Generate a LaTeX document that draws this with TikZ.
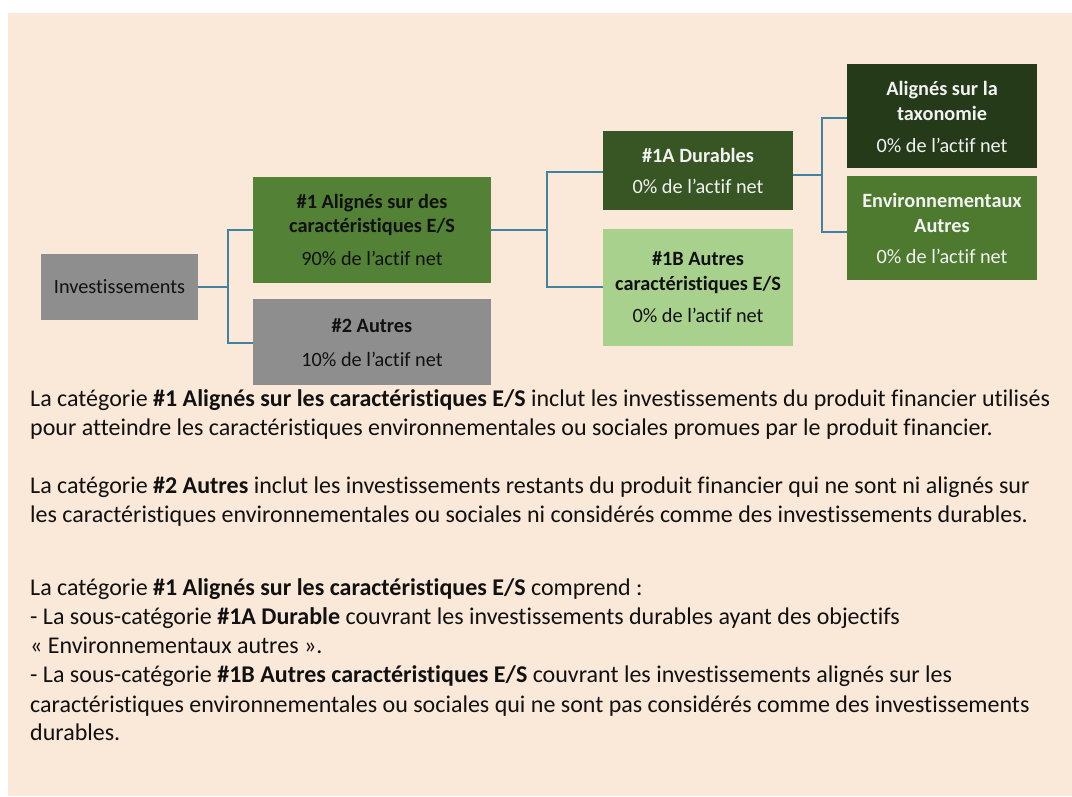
\documentclass[tikz,border=0pt]{standalone}
\usepackage{fontspec}
\setmainfont{Carlito}[Ligatures={NoCommon}]
\usetikzlibrary{calc}
\definecolor{peach}{HTML}{FAE8D8}
\definecolor{gris}{HTML}{8E8E8E}
\definecolor{vert}{HTML}{538135}
\definecolor{vertfonce}{HTML}{375623}
\definecolor{vertnoir}{HTML}{243A18}
\definecolor{vertenv}{HTML}{4E7A30}
\definecolor{vertclair}{HTML}{A9D18E}
\definecolor{lien}{HTML}{41829F}
\definecolor{blanc}{HTML}{F2F2F2}
\definecolor{noir}{HTML}{111111}
\tikzset{
  boite/.style={rectangle, draw=none, inner sep=0pt},
  conn/.style={draw=lien, line width=1.8pt},
  btxt/.style={anchor=base, inner sep=0pt, font=\fontsize{20.3}{24}\selectfont},
  corps/.style={anchor=base west, inner sep=0pt, text=noir, font=\fontsize{24}{29}\selectfont}
}
\begin{document}
\begin{tikzpicture}[x=1pt,y=-1pt]
\useasboundingbox (0,0) rectangle (1072,796);
\fill[white] (0,0) rectangle (1072,796);
\fill[peach] (8,13) rectangle (1072,796);

% boxes
\node[boite, fill=gris, minimum width=157pt, minimum height=66pt] (inv) at (119.5,287) {};
\node[boite, fill=vert, minimum width=238pt, minimum height=106pt] (b1) at (372,230) {};
\node[boite, fill=gris, minimum width=238pt, minimum height=86pt] (b2) at (372,342) {};
\node[boite, fill=vertfonce, minimum width=190pt, minimum height=79pt] (b1a) at (698,170.5) {};
\node[boite, fill=vertclair, minimum width=190pt, minimum height=117pt] (b1b) at (698,287.5) {};
\node[boite, fill=vertnoir, minimum width=190pt, minimum height=104pt] (btax) at (942,116) {};
\node[boite, fill=vertenv, minimum width=190pt, minimum height=104pt] (benv) at (942,228) {};

% connectors
\coordinate (j1) at (228,287);
\coordinate (j2) at (547,230);
\coordinate (j3) at (822,175);
\draw[conn] (inv.east) -- (j1);
\draw[conn] (j1) |- (b1.west);
\draw[conn] (j1) |- ($(b2.west)+(0,1)$);
\draw[conn] (b1.east) -- (j2);
\draw[conn] (j2) |- ($(b1a.west)+(0,1.5)$);
\draw[conn] (j2) |- ($(b1b.west)+(0,-0.5)$);
\draw[conn] (b1a.east |- j3) -- (j3);
\draw[conn] (j3) |- ($(btax.west)+(0,2)$);
\draw[conn] (j3) |- ($(benv.west)+(0,4)$);

% box texts
\node[btxt, text=noir] (tinv) at (119.5,293) {Investissements};
\node[btxt, text=noir] (t1a) at (372,208) {\bfseries \#1 Alignés sur des};
\node[btxt, text=noir] (t1b) at (372,232) {\bfseries caractéristiques E/S};
\node[btxt, text=noir] (t1c) at (372,265) {90\% de l’actif net};
\node[btxt, text=noir] (t2a) at (372,332) {\bfseries \#2 Autres};
\node[btxt, text=noir] (t2b) at (372,366) {10\% de l’actif net};
\node[btxt, text=blanc] (tAa) at (698,162) {\bfseries \#1A Durables};
\node[btxt, text=blanc] (tAb) at (698,193) {0\% de l’actif net};
\node[btxt, text=noir] (tBa) at (698,265) {\bfseries \#1B Autres};
\node[btxt, text=noir] (tBb) at (698,290) {\bfseries caractéristiques E/S};
\node[btxt, text=noir] (tBc) at (698,322) {0\% de l’actif net};
\node[btxt, text=blanc] (tTa) at (942,95) {\bfseries Alignés sur la};
\node[btxt, text=blanc] (tTb) at (942,120) {\bfseries taxonomie};
\node[btxt, text=blanc] (tTc) at (942,152) {0\% de l’actif net};
\node[btxt, text=blanc] (tEa) at (942,207) {\bfseries Environnementaux};
\node[btxt, text=blanc] (tEb) at (942,232) {\bfseries Autres};
\node[btxt, text=blanc] (tEc) at (942,263) {0\% de l’actif net};

% body text
\node[corps] (l1) at (30,406) {La catégorie \textbf{\#1 Alignés sur les caractéristiques E/S} inclut les investissements du produit financier utilisés};
\node[corps] (l2) at (30,435) {pour atteindre les caractéristiques environnementales ou sociales promues par le produit financier.};
\node[corps] (l3) at (30,493) {La catégorie \textbf{\#2 Autres} inclut les investissements restants du produit financier qui ne sont ni alignés sur};
\node[corps] (l4) at (30,522) {les caractéristiques environnementales ou sociales ni considérés comme des investissements durables.};
\node[corps] (l5) at (30,595) {La catégorie \textbf{\#1 Alignés sur les caractéristiques E/S} comprend :};
\node[corps] (l6) at (30,624) {- La sous-catégorie \textbf{\#1A Durable} couvrant les investissements durables ayant des objectifs};
\node[corps] (l7) at (30,653) {« Environnementaux autres ».};
\node[corps] (l8) at (30,682) {- La sous-catégorie \textbf{\#1B Autres caractéristiques E/S} couvrant les investissements alignés sur les};
\node[corps] (l9) at (30,712) {caractéristiques environnementales ou sociales qui ne sont pas considérés comme des investissements};
\node[corps] (l10) at (30,740) {durables.};
\end{tikzpicture}
\end{document}
